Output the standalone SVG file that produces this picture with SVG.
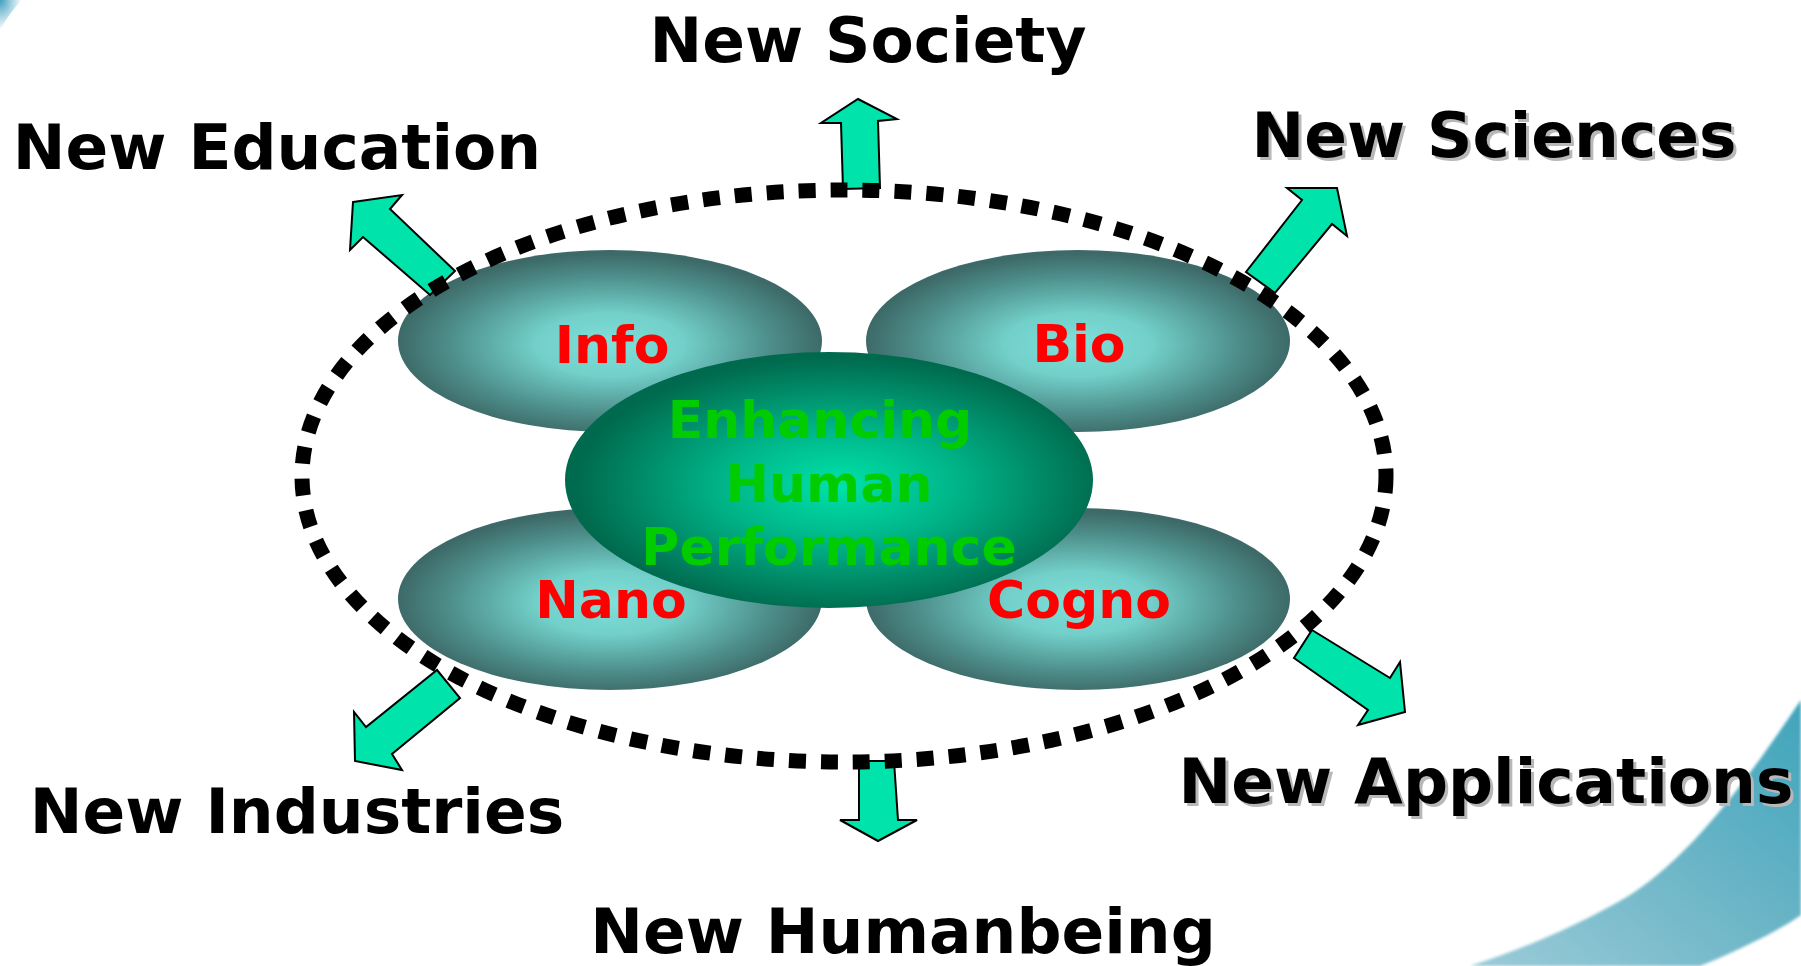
<svg xmlns="http://www.w3.org/2000/svg" width="1801" height="966" viewBox="0 0 1801 966">
<defs>
<radialGradient id="gSmall" cx="50%" cy="52%" r="50%">
<stop offset="0" stop-color="#80e0da"/>
<stop offset="0.35" stop-color="#72cfc9"/>
<stop offset="0.75" stop-color="#4e8f8b"/>
<stop offset="1" stop-color="#3d6a68"/>
</radialGradient>
<radialGradient id="gCenter" cx="52%" cy="52%" r="50%">
<stop offset="0" stop-color="#00e2aa"/>
<stop offset="0.45" stop-color="#00b488"/>
<stop offset="1" stop-color="#006a4e"/>
</radialGradient>
<linearGradient id="gBand" x1="0" y1="1" x2="1" y2="0">
<stop offset="0" stop-color="#9ccbd8"/>
<stop offset="0.5" stop-color="#6db6c7"/>
<stop offset="1" stop-color="#3fa4bb"/>
</linearGradient>
<radialGradient id="gCorner" cx="0" cy="0" r="1">
<stop offset="0" stop-color="#3f9fbf"/>
<stop offset="1" stop-color="#3f9fbf" stop-opacity="0"/>
</radialGradient>
<filter id="soft" x="-5%" y="-5%" width="110%" height="110%"><feGaussianBlur stdDeviation="1.5"/></filter>
</defs>
<style>
.lbl{font-family:"DejaVu Sans","Verdana",sans-serif;font-weight:bold;font-size:63px;fill:#000;text-anchor:middle}
.shadow{fill:#b8b8b8}
.tech{font-family:"DejaVu Sans","Verdana",sans-serif;font-weight:bold;font-size:52px;fill:#ff0000;text-anchor:middle}
.core{font-family:"DejaVu Sans","Verdana",sans-serif;font-weight:bold;font-size:52px;fill:#00cc00;text-anchor:middle}
.small{fill:url(#gSmall)}
.arrow{fill:#00e3aa;stroke:#000;stroke-width:2;stroke-linejoin:miter}
.dots{fill:none;stroke:#000;stroke-width:15;stroke-dasharray:17 15}
</style>
<rect width="1801" height="966" fill="#fff"/>
<g id="background">
<path d="M0,0 L22,0 Q10,12 0,30 Z" fill="url(#gCorner)"/>
<path d="M1801,700 C1760,760 1700,850 1630,895 C1580,925 1520,950 1470,966 L1700,966 C1740,950 1780,930 1801,915 Z" fill="url(#gBand)" filter="url(#soft)"/>
</g>
<g id="node-info"><ellipse class="small" cx="610" cy="341" rx="212" ry="91"/></g>
<g id="node-bio"><ellipse class="small" cx="1078" cy="341" rx="212" ry="91"/></g>
<g id="node-nano"><ellipse class="small" cx="610" cy="599" rx="212" ry="91"/></g>
<g id="node-cogno"><ellipse class="small" cx="1078" cy="599" rx="212" ry="91"/></g>
<g id="node-info-label"><text class="tech" x="612" y="363">Info</text></g>
<g id="node-bio-label"><text class="tech" x="1079" y="362">Bio</text></g>
<g id="node-nano-label"><text class="tech" x="611" y="618">Nano</text></g>
<g id="node-cogno-label"><text class="tech" x="1079" y="618">Cogno</text></g>
<g id="node-core">
<ellipse cx="829" cy="480" rx="264" ry="128" fill="url(#gCenter)"/>
<text class="core" x="820" y="438">Enhancing</text>
<text class="core" x="829" y="502">Human</text>
<text class="core" x="829" y="565">Performance</text>
</g>
<g id="connectors">
<polygon class="arrow" points="353,202 402,195 390,209 455,271 430,295 363,237 350,250"/>
<polygon class="arrow" points="858,99 897,119 878,121 880,188 843,189 841,123 821,123"/>
<polygon class="arrow" points="1287,188 1337,188 1347,236 1332,224 1275,293 1246,272 1302,200"/>
<polygon class="arrow" points="437,670 460,698 392,754 402,770 355,761 354,712 366,727"/>
<polygon class="arrow" points="859,761 894,761 898,820 917,820 878,841 840,820 859,820"/>
<polygon class="arrow" points="1312,630 1294,658 1368,710 1358,725 1405,712 1400,662 1390,678"/>
</g>
<g id="boundary"><ellipse class="dots" cx="844" cy="476" rx="542" ry="286"/></g>
<g id="node-society"><text class="lbl" x="868" y="62">New Society</text></g>
<g id="node-education"><text class="lbl" x="277" y="169">New Education</text></g>
<g id="node-sciences"><text class="lbl shadow" x="1497" y="160">New Sciences</text><text class="lbl" x="1494" y="157">New Sciences</text></g>
<g id="node-industries"><text class="lbl" x="297" y="833">New Industries</text></g>
<g id="node-applications"><text class="lbl shadow" x="1489" y="806">New Applications</text><text class="lbl" x="1486" y="803">New Applications</text></g>
<g id="node-humanbeing"><text class="lbl" x="903" y="953">New Humanbeing</text></g>
</svg>
